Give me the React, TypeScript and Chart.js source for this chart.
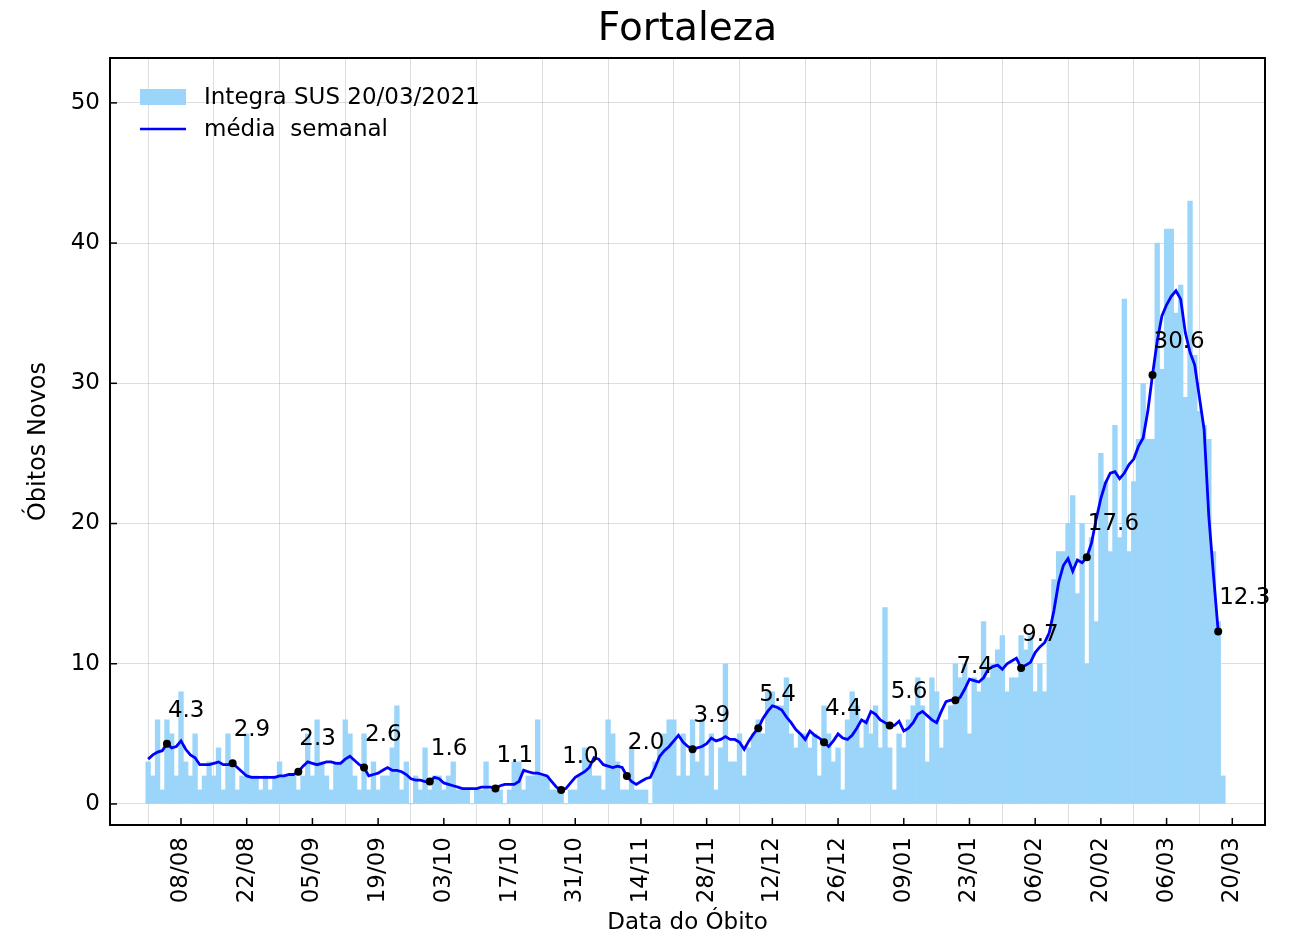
import React, { useEffect, useRef } from 'react';
import { Chart, registerables } from 'chart.js';

Chart.register(...registerables);

// Day index 0 = 01/08/2020
const dailyDeaths = [
  3, 2, 6, 1, 6, 5, 2, 8, 3, 2,
  5, 1, 2, 3, 2, 4, 1, 5, 3, 1,
  2, 5, 2, 2, 1, 2, 1, 2, 3, 2,
  2, 2, 1, 2, 5, 2, 6, 3, 2, 1,
  3, 3, 6, 5, 2, 1, 5, 1, 3, 1,
  2, 2, 4, 7, 1, 3, 0, 2, 1, 4,
  1, 2, 2, 1, 2, 3, 1, 1, 1, 0,
  1, 1, 3, 1, 1, 1, 0, 1, 3, 3,
  1, 2, 2, 6, 2, 2, 1, 1, 1, 0,
  1, 1, 2, 4, 3, 2, 2, 1, 6, 5,
  3, 1, 1, 4, 1, 1, 1, 0, 3, 4,
  5, 6, 6, 2, 5, 2, 6, 3, 6, 2,
  5, 1, 4, 10, 3, 3, 5, 2, 4, 5,
  6, 5, 8, 8, 7, 7, 9, 5, 4, 5,
  5, 4, 5, 2, 7, 5, 3, 4, 1, 6,
  8, 7, 4, 6, 5, 7, 4, 14, 4, 1,
  5, 4, 6, 7, 9, 7, 3, 9, 8, 4,
  6, 7, 10, 9, 10, 5, 9, 8, 13, 9,
  10, 11, 12, 8, 9, 9, 12, 11, 12, 8,
  10, 8, 12, 16, 18, 18, 20, 22, 15, 20,
  10, 19, 13, 25, 23, 18, 27, 19, 36, 18,
  23, 26, 30, 26, 26, 40, 31, 41, 41, 35,
  37, 29, 43, 32, 28, 27, 26, 18, 13, 2,
];

const weeklyMean = [
  3.2, 3.5, 3.7, 3.8, 4.3, 4.0, 4.1, 4.5, 3.9, 3.5,
  3.3, 2.8, 2.8, 2.8, 2.9, 3.0, 2.8, 2.8, 2.9, 2.6,
  2.3, 2.0, 1.9, 1.9, 1.9, 1.9, 1.9, 1.9, 2.0, 2.0,
  2.1, 2.1, 2.3, 2.7, 3.0, 2.9, 2.8, 2.9, 3.0, 3.0,
  2.9, 2.9, 3.2, 3.4, 3.1, 2.8, 2.6, 2.0, 2.1, 2.2,
  2.4, 2.6, 2.4, 2.4, 2.3, 2.1, 1.8, 1.7, 1.7, 1.6,
  1.6, 1.9, 1.8, 1.5, 1.4, 1.3, 1.2, 1.1, 1.1, 1.1,
  1.1, 1.2, 1.2, 1.2, 1.1, 1.3, 1.4, 1.4, 1.4, 1.6,
  2.4, 2.3, 2.2, 2.2, 2.1, 2.0, 1.6, 1.2, 1.0, 1.1,
  1.5, 1.9, 2.1, 2.3, 2.6, 3.3, 3.2, 2.8, 2.7, 2.6,
  2.7, 2.6, 2.0, 1.6, 1.4, 1.6, 1.8, 1.9, 2.6, 3.4,
  3.8, 4.1, 4.5, 4.9, 4.4, 4.1, 3.9, 4.0, 4.1, 4.3,
  4.7, 4.5, 4.6, 4.8, 4.6, 4.6, 4.4, 3.9, 4.5, 5.0,
  5.4, 6.1, 6.6, 7.0, 6.9, 6.7, 6.2, 5.8, 5.3, 5.0,
  4.6, 5.2, 4.9, 4.7, 4.4, 4.1, 4.5, 5.0, 4.7, 4.6,
  4.9, 5.4, 6.0, 5.8, 6.6, 6.4, 6.0, 5.8, 5.6, 5.6,
  5.9, 5.2, 5.4, 5.8, 6.4, 6.6, 6.3, 6.0, 5.8, 6.6,
  7.3, 7.4, 7.4, 7.6, 8.2, 8.9, 8.8, 8.7, 9.0, 9.6,
  9.8, 9.9, 9.6, 10.0, 10.2, 10.4, 9.7, 9.9, 10.1, 10.8,
  11.2, 11.5, 12.2, 13.8, 15.8, 17.0, 17.5, 16.6, 17.4, 17.2,
  17.6, 18.6, 20.3, 21.8, 22.9, 23.6, 23.7, 23.2, 23.6, 24.2,
  24.6, 25.5, 26.1, 28.0, 30.6, 33.0, 34.8, 35.6, 36.2, 36.6,
  36.0, 33.6, 32.2, 31.3, 29.0, 26.7, 20.5, 16.3, 12.3,
];

const markerDays = [4, 18, 32, 46, 60, 74, 88, 102, 116, 130, 144, 158, 172, 186, 200, 214, 228];

const tickDays = [7, 21, 35, 49, 63, 77, 91, 105, 119, 133, 147, 161, 175, 189, 203, 217, 231];
const tickLabels = [
  '08/08', '22/08', '05/09', '19/09', '03/10', '17/10', '31/10', '14/11', '28/11',
  '12/12', '26/12', '09/01', '23/01', '06/02', '20/02', '06/03', '20/03',
];
const yTicks = [0, 10, 20, 30, 40, 50];

const barLabel = 'Integra SUS 20/03/2021';
const lineLabel = 'média  semanal';
const titleText = 'Fortaleza';

const FONT = "'DejaVu Sans', sans-serif";
const BAR_COLOR = 'rgb(155,213,250)';
const LINE_COLOR = '#0000ff';
const GRID_COLOR = 'rgba(0,0,0,0.13)';
const TEXT_SIZE = 23;

export default function App() {
  const ref = useRef<HTMLCanvasElement>(null);

  useEffect(() => {
    const canvas = ref.current;
    if (!canvas) return;

    const barData = dailyDeaths.map((v, i) => ({ x: i, y: v }));
    const lineData = weeklyMean.map((v, i) => ({ x: i, y: v }));

    const decorPlugin = {
      id: 'decor',
      afterDraw(chart: any) {
        const { ctx, chartArea: a, scales } = chart;
        ctx.save();
        // inward tick marks
        ctx.strokeStyle = '#000';
        ctx.lineWidth = 1.5;
        scales.x.ticks.forEach((t: any) => {
          const px = scales.x.getPixelForValue(t.value);
          ctx.beginPath();
          ctx.moveTo(px, a.bottom);
          ctx.lineTo(px, a.bottom - 7);
          ctx.stroke();
        });
        scales.y.ticks.forEach((t: any) => {
          const py = scales.y.getPixelForValue(t.value);
          ctx.beginPath();
          ctx.moveTo(a.left, py);
          ctx.lineTo(a.left + 7, py);
          ctx.stroke();
        });
        // frame
        ctx.lineWidth = 2;
        ctx.strokeRect(a.left, a.top, a.right - a.left, a.bottom - a.top);

        // legend
        const ds = chart.data.datasets;
        const barDs = ds[1];
        const lineDs = ds[0];
        ctx.font = `${TEXT_SIZE}px ${FONT}`;
        ctx.textAlign = 'left';
        ctx.textBaseline = 'middle';
        ctx.fillStyle = barDs.backgroundColor;
        ctx.fillRect(a.left + 30, a.top + 31, 46, 16);
        ctx.fillStyle = '#000';
        ctx.fillText(barDs.label, a.left + 94, a.top + 40);
        ctx.strokeStyle = lineDs.borderColor;
        ctx.lineWidth = 2.5;
        ctx.beginPath();
        ctx.moveTo(a.left + 30, a.top + 71);
        ctx.lineTo(a.left + 76, a.top + 71);
        ctx.stroke();
        ctx.fillStyle = '#000';
        ctx.fillText(lineDs.label, a.left + 94, a.top + 72);

        // marker value labels
        const meta = chart.getDatasetMeta(0);
        ctx.textBaseline = 'alphabetic';
        ctx.fillStyle = '#000';
        markerDays.forEach((i) => {
          const el = meta.data[i];
          if (!el) return;
          ctx.fillText(weeklyMean[i].toFixed(1), el.x + 1, el.y - 27);
        });
        ctx.restore();
      },
    };

    const chart = new Chart(canvas, {
      type: 'bar',
      data: {
        datasets: [
          {
            type: 'line',
            label: lineLabel,
            data: lineData,
            borderColor: LINE_COLOR,
            borderWidth: 2.8,
            tension: 0,
            pointRadius: (c: any) => (markerDays.includes(c.dataIndex) ? 4 : 0),
            pointBackgroundColor: '#000',
            pointBorderColor: '#000',
            pointBorderWidth: 0,
            order: 0,
          } as any,
          {
            type: 'bar',
            label: barLabel,
            data: barData,
            backgroundColor: BAR_COLOR,
            borderWidth: 0,
            barPercentage: 1,
            categoryPercentage: 1,
            order: 1,
          } as any,
        ],
      },
      options: {
        responsive: false,
        devicePixelRatio: 1,
        animation: false,
        layout: { padding: { left: 0, right: 26, top: 0, bottom: 0 } },
        plugins: {
          legend: { display: false },
          tooltip: { enabled: false },
          title: {
            display: true,
            text: titleText,
            fullSize: false,
            color: '#000',
            font: { family: FONT, size: 39, weight: 'normal' },
            padding: { top: 6, bottom: 5.2 },
          },
        },
        scales: {
          x: {
            type: 'linear',
            min: -8.13,
            max: 237.97,
            offset: false,
            z: 1,
            afterBuildTicks: (s: any) => {
              s.ticks = tickDays.map((v) => ({ value: v }));
            },
            afterFit: (s: any) => {
              s.height = 112;
            },
            ticks: {
              autoSkip: false,
              minRotation: 90,
              maxRotation: 90,
              padding: 12,
              color: '#000',
              font: { family: FONT, size: TEXT_SIZE },
              callback: (v: any) => {
                const k = tickDays.indexOf(v);
                return k >= 0 ? tickLabels[k] : '';
              },
            },
            grid: { color: GRID_COLOR, lineWidth: 1, drawTicks: false },
            border: { display: false },
            title: {
              display: true,
              text: 'Data do Óbito',
              color: '#000',
              font: { family: FONT, size: TEXT_SIZE },
              padding: { top: 0, bottom: 0 },
            },
          },
          y: {
            type: 'linear',
            min: -1.5,
            max: 53.2,
            z: 1,
            afterBuildTicks: (s: any) => {
              s.ticks = yTicks.map((v) => ({ value: v }));
            },
            afterFit: (s: any) => {
              s.width = 110;
            },
            ticks: {
              padding: 10,
              color: '#000',
              font: { family: FONT, size: TEXT_SIZE },
            },
            grid: { color: GRID_COLOR, lineWidth: 1, drawTicks: false },
            border: { display: false },
            title: {
              display: true,
              text: 'Óbitos Novos',
              color: '#000',
              font: { family: FONT, size: 24 },
              padding: { top: 24, bottom: 0 },
            },
          },
        },
      } as any,
      plugins: [decorPlugin],
    });

    return () => chart.destroy();
  }, []);

  return (
    <div style={{ position: 'fixed', left: 0, top: 0, width: 1291, height: 937, background: '#fff' }}>
      <canvas ref={ref} width={1291} height={937} style={{ display: 'block' }} />
    </div>
  );
}
